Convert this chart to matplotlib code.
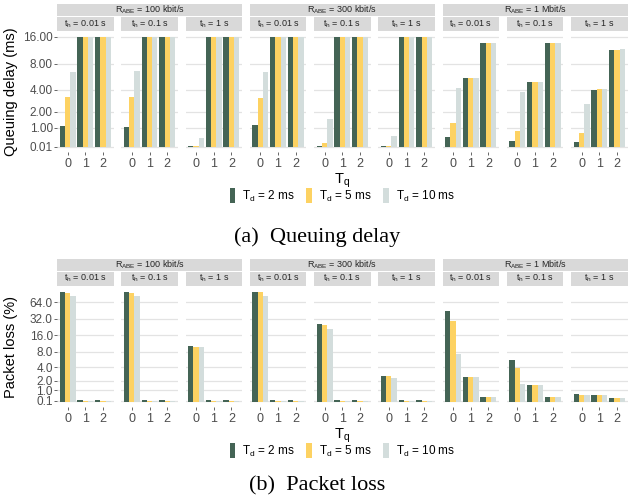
import numpy as np
import matplotlib
matplotlib.use('Agg')
import matplotlib.pyplot as plt
from matplotlib.patches import Rectangle, Patch

plt.rcParams['font.family'] = 'Liberation Sans'
plt.rcParams['mathtext.default'] = 'regular'

rates = ['100 kbit/s', '300 kbit/s', '1 Mbit/s']
holds = ['0.01 s', '0.1 s', '1 s']
tq = [0, 1, 2]
td_labels = ['2 ms', '5 ms', '10 ms']
colors = ['#446455', '#FDD262', '#D3DDDC']

# queuing delay (ms), capped at 16; per t_h panel: rows T_d = 2/5/10 ms, cols T_q = 0/1/2
delay_100k = [
    [[1.10, 16, 16], [3.2, 16, 16], [6.5, 16, 16]],
    [[1.05, 16, 16], [3.2, 16, 16], [6.7, 16, 16]],
    [[0.02, 16, 16], [0.05, 16, 16], [0.45, 16, 16]],
]
delay_300k = [
    [[1.15, 16, 16], [3.1, 16, 16], [6.5, 16, 16]],
    [[0.02, 16, 16], [0.2, 16, 16], [1.5, 16, 16]],
    [[0.02, 16, 16], [0.05, 16, 16], [0.55, 16, 16]],
]
delay_1M = [
    [[0.52, 5.5, 13.7], [1.3, 5.5, 13.7], [4.2, 5.5, 13.7]],
    [[0.30, 4.9, 13.7], [0.82, 5.0, 13.7], [3.7, 5.0, 13.7]],
    [[0.26, 3.9, 11.4], [0.73, 4.05, 11.4], [2.6, 4.05, 11.7]],
]

# packet loss (%)
loss_100k = [
    [[100, 0.15, 0.15], [96, 0.08, 0.08], [84, 0.06, 0.06]],
    [[100, 0.15, 0.15], [95, 0.08, 0.08], [84, 0.06, 0.06]],
    [[10.3, 0.15, 0.15], [9.9, 0.08, 0.08], [9.9, 0.06, 0.06]],
]
loss_300k = [
    [[100, 0.15, 0.15], [97, 0.08, 0.08], [84, 0.06, 0.06]],
    [[26.2, 0.15, 0.15], [25.1, 0.08, 0.08], [21.2, 0.06, 0.06]],
    [[2.6, 0.15, 0.15], [2.6, 0.08, 0.08], [2.4, 0.06, 0.06]],
]
loss_1M = [
    [[43.8, 2.5, 0.4], [28.8, 2.5, 0.4], [7.3, 2.5, 0.4]],
    [[5.5, 1.5, 0.4], [3.8, 1.5, 0.4], [1.6, 1.5, 0.4]],
    [[0.7, 0.55, 0.3], [0.55, 0.55, 0.3], [0.55, 0.55, 0.3]],
]

delay_ticks = [0.01, 1, 2, 4, 8, 16]
loss_ticks = [0.1, 1, 2, 4, 8, 16, 32, 64]

W, H = 635, 500


def fwd(v):
    return np.arcsinh(np.asarray(v, dtype=float) / 2)


def inv(t):
    return 2 * np.sinh(np.asarray(t, dtype=float))


fig = plt.figure(figsize=(W / 100, H / 100), dpi=100)


def box(x0, y0, x1, y1):
    # pixel box (top-left origin) -> figure fraction rect
    return [x0 / W, 1 - y1 / H, (x1 - x0) / W, (y1 - y0) / H]


def draw_block(data, ticks, fmt, ymax, top, ylabel, caption, cap_y):
    strip1 = (top, top + 12)
    strip2 = (top + 13, top + 26.5)
    p_top, p_bot = top + 27.2, top + 148.4
    left0, step, pw = 57, 64.25, 56.5
    lo = inv(-0.05 * fwd(ymax))
    hi = inv(1.05 * fwd(ymax))
    for g, rate in enumerate(rates):
        gx0 = left0 + 3 * g * step
        gx1 = gx0 + 2 * step + pw
        fig.patches.append(Rectangle((gx0 / W, 1 - strip1[1] / H), (gx1 - gx0) / W,
                                     (strip1[1] - strip1[0]) / H, transform=fig.transFigure,
                                     facecolor='#d9d9d9', edgecolor='none'))
        fig.text((gx0 + gx1) / 2 / W, 1 - (strip1[0] + strip1[1]) / 2 / H,
                 r'R$_{ABE}$ = ' + rate, ha='center', va='center', fontsize=6.5, color='#262626')
        for h, hold in enumerate(holds):
            k = 3 * g + h
            x0 = left0 + k * step
            fig.patches.append(Rectangle((x0 / W, 1 - strip2[1] / H), pw / W,
                                         (strip2[1] - strip2[0]) / H, transform=fig.transFigure,
                                         facecolor='#d9d9d9', edgecolor='none'))
            fig.text((x0 + pw / 2) / W, 1 - (strip2[0] + strip2[1]) / 2 / H,
                     r't$_h$ = ' + hold, ha='center', va='center', fontsize=6.5, color='#262626')
            ax = fig.add_axes(box(x0, p_top, x0 + pw, p_bot))
            ax.set_yscale('function', functions=(fwd, inv))
            vals = data[g][h]
            for d in range(3):
                ax.bar(np.array(tq) + (d - 1) * 0.3, vals[d], width=0.3,
                       color=colors[d], zorder=2)
            ax.set_xlim(-0.6, 2.6)
            ax.set_ylim(lo, hi)
            ax.set_yticks(ticks)
            ax.yaxis.grid(True, color='#e3e3e3', linewidth=0.9, zorder=0)
            ax.set_axisbelow(True)
            for s in ax.spines.values():
                s.set_visible(False)
            ax.set_xticks(tq)
            ax.set_xticklabels([str(t) for t in tq])
            ax.tick_params(axis='x', length=2, width=0.6, color='#4d4d4d',
                           labelsize=9, labelcolor='#4d4d4d', pad=2)
            if k == 0:
                ax.set_yticklabels([fmt % t for t in ticks])
                ax.tick_params(axis='y', length=2, width=0.6, color='#4d4d4d',
                               labelsize=8.5, labelcolor='#4d4d4d', pad=1)
            else:
                ax.tick_params(axis='y', length=0, labelleft=False)
            ax.minorticks_off()
    mid_x = (left0 + 8 * step + pw + left0) / 2 / W
    fig.text(11 / W, 1 - (p_top + p_bot) / 2 / H, ylabel, rotation=90,
             ha='center', va='center', fontsize=10.5)
    fig.text(mid_x, 1 - (top + 177) / H, r'T$_q$', ha='center', va='center', fontsize=10.5)
    handles = [Patch(facecolor=c, edgecolor='none') for c in colors]
    labels = [r'T$_d$ = ' + t for t in td_labels]
    fig.legend(handles, labels, loc='center', ncol=3, frameon=False,
               bbox_to_anchor=(mid_x, 1 - (top + 192) / H), fontsize=8.5,
               handlelength=0.45, handleheight=1.6, handletextpad=0.6,
               columnspacing=1.0, borderaxespad=0)
    fig.text(0.5, 1 - cap_y / H, caption, ha='center', va='center',
             fontsize=16, family='Liberation Serif')


draw_block([delay_100k, delay_300k, delay_1M], delay_ticks, '%.2f', 16, 4,
           'Queuing delay (ms)', '(a)  Queuing delay', 237)
draw_block([loss_100k, loss_300k, loss_1M], loss_ticks, '%.1f', 100, 259,
           'Packet loss (%)', '(b)  Packet loss', 486)

fig.savefig('out.png', dpi=100)
